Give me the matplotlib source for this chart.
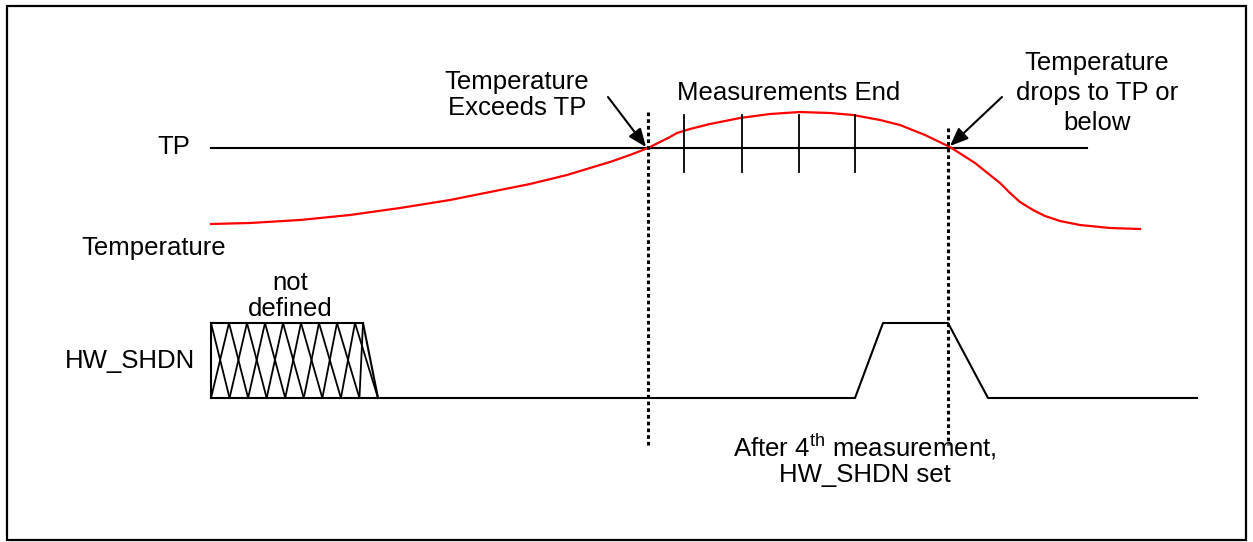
"""HW_SHDN timing diagram: temperature vs TP and the shutdown output."""
import numpy as np
import matplotlib
matplotlib.use('Agg')
import matplotlib.pyplot as plt

plt.rcParams['font.family'] = ['Liberation Sans', 'DejaVu Sans']
plt.rcParams['mathtext.fontset'] = 'custom'
plt.rcParams['mathtext.rm'] = 'Liberation Sans'

# diagram units (same scale as the drawing, y grows downward)
tp_level = 148
tp_t = [211, 1087]

temp_t = [211, 250, 300, 350, 400, 450, 500, 530, 567, 590, 610, 630, 648,
          660, 670, 677, 690, 710, 740, 770, 800, 830, 853, 880, 900, 925,
          950, 975, 990, 1000, 1010, 1020, 1033, 1045, 1060, 1080, 1110, 1140]
temp_y = [224, 223, 220, 215, 208, 200, 190, 184, 175, 168, 162, 155, 148,
          142, 137, 133, 129, 124, 118, 114, 112, 113, 115, 120, 125, 135,
          147, 163, 175, 183, 193, 202, 210, 216, 221, 225, 228, 229]

meas_t = [684, 742, 799, 855]
meas_top, meas_bot = 115, 172

cross_t = [648, 948]          # temperature crosses TP
cross_top = [112, 128]
cross_bot = 445

shdn_t = [211, 855, 883, 948, 988, 1197]
shdn_y = [398, 398, 323, 323, 398, 398]
undef_t0, undef_t1_top, undef_t1_bot = 211, 363, 378
undef_last_top = 355
undef_hi, undef_lo = 323, 398
undef_cells = 9

fig = plt.figure(figsize=(12.53, 5.42), dpi=100)
ax = fig.add_axes([0, 0, 1, 1])
ax.set_xlim(0, 1253)
ax.set_ylim(542, 0)
ax.axis('off')

# frame
ax.add_patch(plt.Rectangle((7, 6), 1239, 534, fill=False, lw=1.6, ec='black'))

# TP line and temperature
ax.plot(tp_t, [tp_level, tp_level], color='black', lw=1.5)
ax.plot(temp_t, temp_y, color='#ff0000', lw=1.6)

for t in meas_t:
    ax.plot([t, t], [meas_top, meas_bot], color='black', lw=1.3)

for t, top in zip(cross_t, cross_top):
    ax.plot([t, t], [top, cross_bot], color='black', lw=2.2,
            linestyle=(0, (1.2, 1.0)))

# HW_SHDN waveform
ax.plot(shdn_t, shdn_y, color='black', lw=1.5)

# undefined region (crosshatch of X cells)
top_x = np.append(np.linspace(undef_t0, undef_last_top, undef_cells), undef_t1_top)
bot_x = np.linspace(undef_t0, undef_t1_bot, undef_cells + 1)
ax.plot([undef_t0, undef_t1_top], [undef_hi, undef_hi], color='black', lw=1.5)
ax.plot([undef_t0, undef_t0], [undef_hi, undef_lo], color='black', lw=1.5)
ax.plot([undef_t1_top, undef_t1_bot], [undef_hi, undef_lo], color='black', lw=1.5)
for i in range(undef_cells):
    ax.plot([top_x[i], bot_x[i + 1]], [undef_hi, undef_lo], color='black', lw=1.3)
    ax.plot([bot_x[i], top_x[i + 1]], [undef_lo, undef_hi], color='black', lw=1.3)

# arrows
arrow = dict(arrowstyle='-|>,head_length=1.1,head_width=0.45', color='black',
             lw=1.5, shrinkA=0, shrinkB=0)
ax.annotate('', xy=(646, 147), xytext=(608, 97), arrowprops=arrow)
ax.annotate('', xy=(950, 146), xytext=(1002, 97), arrowprops=arrow)

fs = 18.5
ax.text(174, 147, 'TP', fontsize=fs, ha='center', va='center')
ax.text(154, 248, 'Temperature', fontsize=fs, ha='center', va='center')
ax.text(130, 361, 'HW_SHDN', fontsize=fs, ha='center', va='center')
ax.text(290, 296, 'not\ndefined', fontsize=fs, ha='center', va='center',
        linespacing=1.15)
ax.text(517, 95, 'Temperature\nExceeds TP', fontsize=fs, ha='center',
        va='center', linespacing=1.15)
ax.text(789, 93, 'Measurements End', fontsize=fs, ha='center', va='center')
ax.text(1097, 93, 'Temperature\ndrops to TP or\nbelow', fontsize=fs,
        ha='center', va='center', linespacing=1.3)
ax.text(865, 447, r'After 4$^{\mathrm{th}}$ measurement,', fontsize=fs,
        ha='center', va='center')
ax.text(865, 475, 'HW_SHDN set', fontsize=fs, ha='center', va='center')

fig.savefig('out.png', dpi=100)
